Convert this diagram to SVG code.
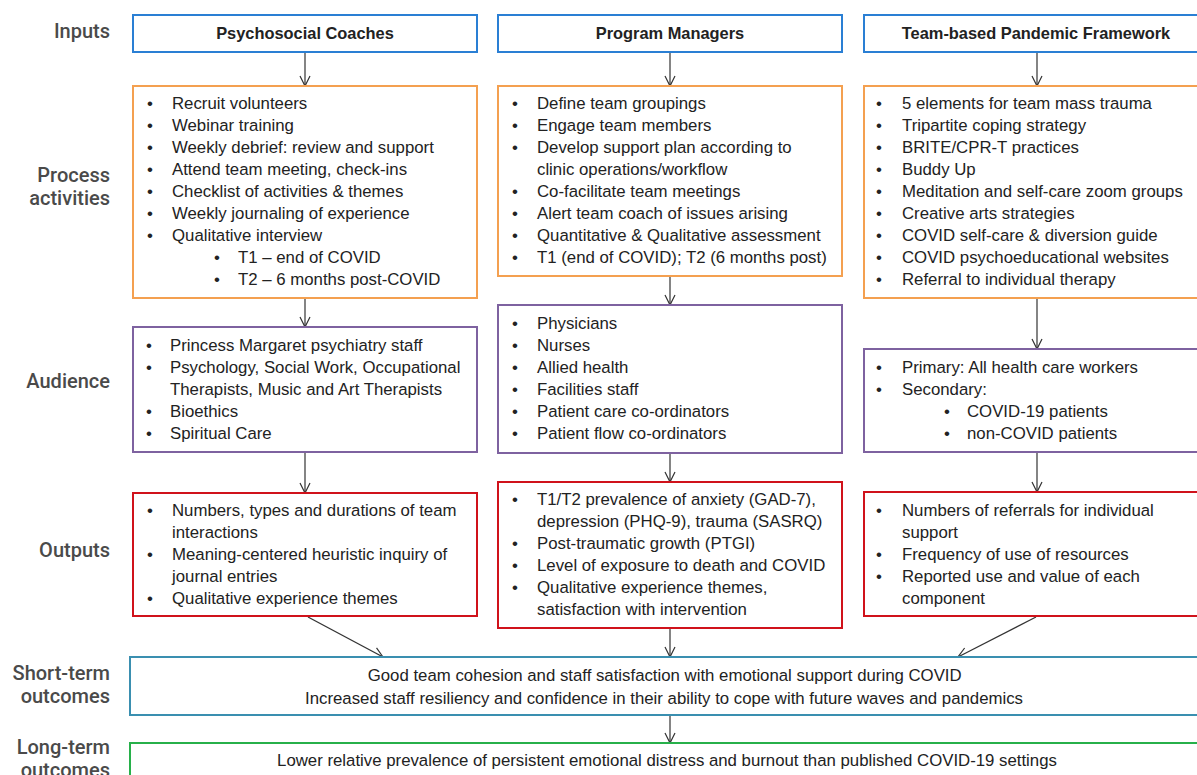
<svg xmlns="http://www.w3.org/2000/svg" width="1197" height="775" viewBox="0 0 1197 775">
<defs>
<marker id="ah" viewBox="0 0 12 12" refX="11" refY="6" markerWidth="12" markerHeight="12" markerUnits="userSpaceOnUse" orient="auto">
<path d="M1,1 L11,6 L1,11" fill="none" stroke="#333" stroke-width="1.2"/>
</marker>
<style>
.lbl{font-family:Roboto,"Liberation Sans",sans-serif;font-size:20px;fill:#4a4a4a;text-anchor:end;font-weight:500}
.t{font-family:"Liberation Sans",Arial,sans-serif;font-size:16.8px;fill:#222}
.h{font-family:"Liberation Sans",Arial,sans-serif;font-size:16.4px;font-weight:bold;fill:#222;text-anchor:middle}
.c{font-family:"Liberation Sans",Arial,sans-serif;font-size:16.8px;fill:#222;text-anchor:middle}
.in{fill:#fff;stroke:#2a7fd4;stroke-width:2}
.pr{fill:#fff;stroke:#f4a050;stroke-width:2}
.au{fill:#fff;stroke:#7e62a0;stroke-width:2}
.ou{fill:#fff;stroke:#d0121b;stroke-width:2}
.st{fill:#fff;stroke:#3a8fb0;stroke-width:2}
.lt{fill:#fff;stroke:#27b04a;stroke-width:2}
.cn{stroke:#333;stroke-width:1.2;fill:none;marker-end:url(#ah)}
</style>
</defs>
<rect width="1197" height="775" fill="#fff"/>
<g id="labels">
<text class="lbl" x="110" y="38">Inputs</text>
<text class="lbl" x="110" y="182">Process</text>
<text class="lbl" x="110" y="205">activities</text>
<text class="lbl" x="110" y="388">Audience</text>
<text class="lbl" x="110" y="557">Outputs</text>
<text class="lbl" x="110" y="680">Short-term</text>
<text class="lbl" x="110" y="703">outcomes</text>
<text class="lbl" x="110" y="754">Long-term</text>
<text class="lbl" x="110" y="777">outcomes</text>
</g>
<g id="connectors">
<line class="cn" x1="305" y1="52" x2="305" y2="86"/>
<line class="cn" x1="670" y1="52" x2="670" y2="86"/>
<line class="cn" x1="1037" y1="52" x2="1037" y2="86"/>
<line class="cn" x1="305" y1="298" x2="305" y2="327"/>
<line class="cn" x1="670" y1="276" x2="670" y2="305"/>
<line class="cn" x1="1037" y1="298" x2="1037" y2="349"/>
<line class="cn" x1="305" y1="452" x2="305" y2="493"/>
<line class="cn" x1="670" y1="453" x2="670" y2="482"/>
<line class="cn" x1="1037" y1="452" x2="1037" y2="492"/>
<line class="cn" x1="308" y1="617" x2="383" y2="657"/>
<line class="cn" x1="670" y1="628" x2="670" y2="657"/>
<line class="cn" x1="1036" y1="617" x2="958" y2="657"/>
<line class="cn" x1="670" y1="715" x2="670" y2="743"/>
</g>
<g id="in1"><rect class="in" x="133" y="15" width="344" height="37"/><text class="h" x="305" y="39">Psychosocial Coaches</text></g>
<g id="in2"><rect class="in" x="498" y="15" width="344" height="37"/><text class="h" x="670" y="39">Program Managers</text></g>
<g id="in3"><rect class="in" x="864" y="15" width="345" height="37"/><text class="h" x="1036" y="39">Team-based Pandemic Framework</text></g>

<g id="pr1"><rect class="pr" x="133" y="86" width="344" height="212"/>
<text class="t"><tspan x="147" y="109">•</tspan><tspan x="172" y="109">Recruit volunteers</tspan>
<tspan x="147" y="131">•</tspan><tspan x="172" y="131">Webinar training</tspan>
<tspan x="147" y="153">•</tspan><tspan x="172" y="153">Weekly debrief: review and support</tspan>
<tspan x="147" y="175">•</tspan><tspan x="172" y="175">Attend team meeting, check-ins</tspan>
<tspan x="147" y="197">•</tspan><tspan x="172" y="197">Checklist of activities &amp; themes</tspan>
<tspan x="147" y="219">•</tspan><tspan x="172" y="219">Weekly journaling of experience</tspan>
<tspan x="147" y="241">•</tspan><tspan x="172" y="241">Qualitative interview</tspan>
<tspan x="214" y="263">•</tspan><tspan x="238" y="263">T1 – end of COVID</tspan>
<tspan x="214" y="285">•</tspan><tspan x="238" y="285">T2 – 6 months post-COVID</tspan></text></g>

<g id="pr2"><rect class="pr" x="498" y="86" width="344" height="190"/>
<text class="t"><tspan x="512" y="109">•</tspan><tspan x="537" y="109">Define team groupings</tspan>
<tspan x="512" y="131">•</tspan><tspan x="537" y="131">Engage team members</tspan>
<tspan x="512" y="153">•</tspan><tspan x="537" y="153">Develop support plan according to</tspan>
<tspan x="537" y="175">clinic operations/workflow</tspan>
<tspan x="512" y="197">•</tspan><tspan x="537" y="197">Co-facilitate team meetings</tspan>
<tspan x="512" y="219">•</tspan><tspan x="537" y="219">Alert team coach of issues arising</tspan>
<tspan x="512" y="241">•</tspan><tspan x="537" y="241">Quantitative &amp; Qualitative assessment</tspan>
<tspan x="512" y="263">•</tspan><tspan x="537" y="263">T1 (end of COVID); T2 (6 months post)</tspan></text></g>

<g id="pr3"><rect class="pr" x="864" y="86" width="345" height="212"/>
<text class="t"><tspan x="876" y="109">•</tspan><tspan x="902" y="109">5 elements for team mass trauma</tspan>
<tspan x="876" y="131">•</tspan><tspan x="902" y="131">Tripartite coping strategy</tspan>
<tspan x="876" y="153">•</tspan><tspan x="902" y="153">BRITE/CPR-T practices</tspan>
<tspan x="876" y="175">•</tspan><tspan x="902" y="175">Buddy Up</tspan>
<tspan x="876" y="197">•</tspan><tspan x="902" y="197">Meditation and self-care zoom groups</tspan>
<tspan x="876" y="219">•</tspan><tspan x="902" y="219">Creative arts strategies</tspan>
<tspan x="876" y="241">•</tspan><tspan x="902" y="241">COVID self-care &amp; diversion guide</tspan>
<tspan x="876" y="263">•</tspan><tspan x="902" y="263">COVID psychoeducational websites</tspan>
<tspan x="876" y="285">•</tspan><tspan x="902" y="285">Referral to individual therapy</tspan></text></g>

<g id="au1"><rect class="au" x="133" y="327" width="344" height="125"/>
<text class="t"><tspan x="146" y="351">•</tspan><tspan x="170" y="351">Princess Margaret psychiatry staff</tspan>
<tspan x="146" y="373">•</tspan><tspan x="170" y="373">Psychology, Social Work, Occupational</tspan>
<tspan x="170" y="395">Therapists, Music and Art Therapists</tspan>
<tspan x="146" y="417">•</tspan><tspan x="170" y="417">Bioethics</tspan>
<tspan x="146" y="439">•</tspan><tspan x="170" y="439">Spiritual Care</tspan></text></g>

<g id="au2"><rect class="au" x="498" y="305" width="344" height="148"/>
<text class="t"><tspan x="512" y="329">•</tspan><tspan x="537" y="329">Physicians</tspan>
<tspan x="512" y="351">•</tspan><tspan x="537" y="351">Nurses</tspan>
<tspan x="512" y="373">•</tspan><tspan x="537" y="373">Allied health</tspan>
<tspan x="512" y="395">•</tspan><tspan x="537" y="395">Facilities staff</tspan>
<tspan x="512" y="417">•</tspan><tspan x="537" y="417">Patient care co-ordinators</tspan>
<tspan x="512" y="439">•</tspan><tspan x="537" y="439">Patient flow co-ordinators</tspan></text></g>

<g id="au3"><rect class="au" x="864" y="349" width="345" height="103"/>
<text class="t"><tspan x="876" y="373">•</tspan><tspan x="902" y="373">Primary: All health care workers</tspan>
<tspan x="876" y="395">•</tspan><tspan x="902" y="395">Secondary:</tspan>
<tspan x="944" y="417">•</tspan><tspan x="967" y="417">COVID-19 patients</tspan>
<tspan x="944" y="439">•</tspan><tspan x="967" y="439">non-COVID patients</tspan></text></g>

<g id="ou1"><rect class="ou" x="133" y="493" width="344" height="123"/>
<text class="t"><tspan x="147" y="516">•</tspan><tspan x="172" y="516">Numbers, types and durations of team</tspan>
<tspan x="172" y="538">interactions</tspan>
<tspan x="147" y="560">•</tspan><tspan x="172" y="560">Meaning-centered heuristic inquiry of</tspan>
<tspan x="172" y="582">journal entries</tspan>
<tspan x="147" y="604">•</tspan><tspan x="172" y="604">Qualitative experience themes</tspan></text></g>

<g id="ou2"><rect class="ou" x="498" y="482" width="344" height="146"/>
<text class="t"><tspan x="512" y="505">•</tspan><tspan x="537" y="505">T1/T2 prevalence of anxiety (GAD-7),</tspan>
<tspan x="537" y="527">depression (PHQ-9), trauma (SASRQ)</tspan>
<tspan x="512" y="549">•</tspan><tspan x="537" y="549">Post-traumatic growth (PTGI)</tspan>
<tspan x="512" y="571">•</tspan><tspan x="537" y="571">Level of exposure to death and COVID</tspan>
<tspan x="512" y="593">•</tspan><tspan x="537" y="593">Qualitative experience themes,</tspan>
<tspan x="537" y="615">satisfaction with intervention</tspan></text></g>

<g id="ou3"><rect class="ou" x="864" y="492" width="345" height="124"/>
<text class="t"><tspan x="876" y="516">•</tspan><tspan x="902" y="516">Numbers of referrals for individual</tspan>
<tspan x="902" y="538">support</tspan>
<tspan x="876" y="560">•</tspan><tspan x="902" y="560">Frequency of use of resources</tspan>
<tspan x="876" y="582">•</tspan><tspan x="902" y="582">Reported use and value of each</tspan>
<tspan x="902" y="604">component</tspan></text></g>

<g id="short"><rect class="st" x="130" y="657" width="1080" height="58"/>
<text class="c"><tspan x="667" y="681">Good team cohesion and staff satisfaction with emotional support during COVID</tspan>
<tspan x="664" y="704">Increased staff resiliency and confidence in their ability to cope with future waves and pandemics</tspan></text></g>

<g id="long"><rect class="lt" x="130" y="743" width="1080" height="50"/>
<text class="c" x="667" y="766">Lower relative prevalence of persistent emotional distress and burnout than published COVID-19 settings</text></g>
</svg>
